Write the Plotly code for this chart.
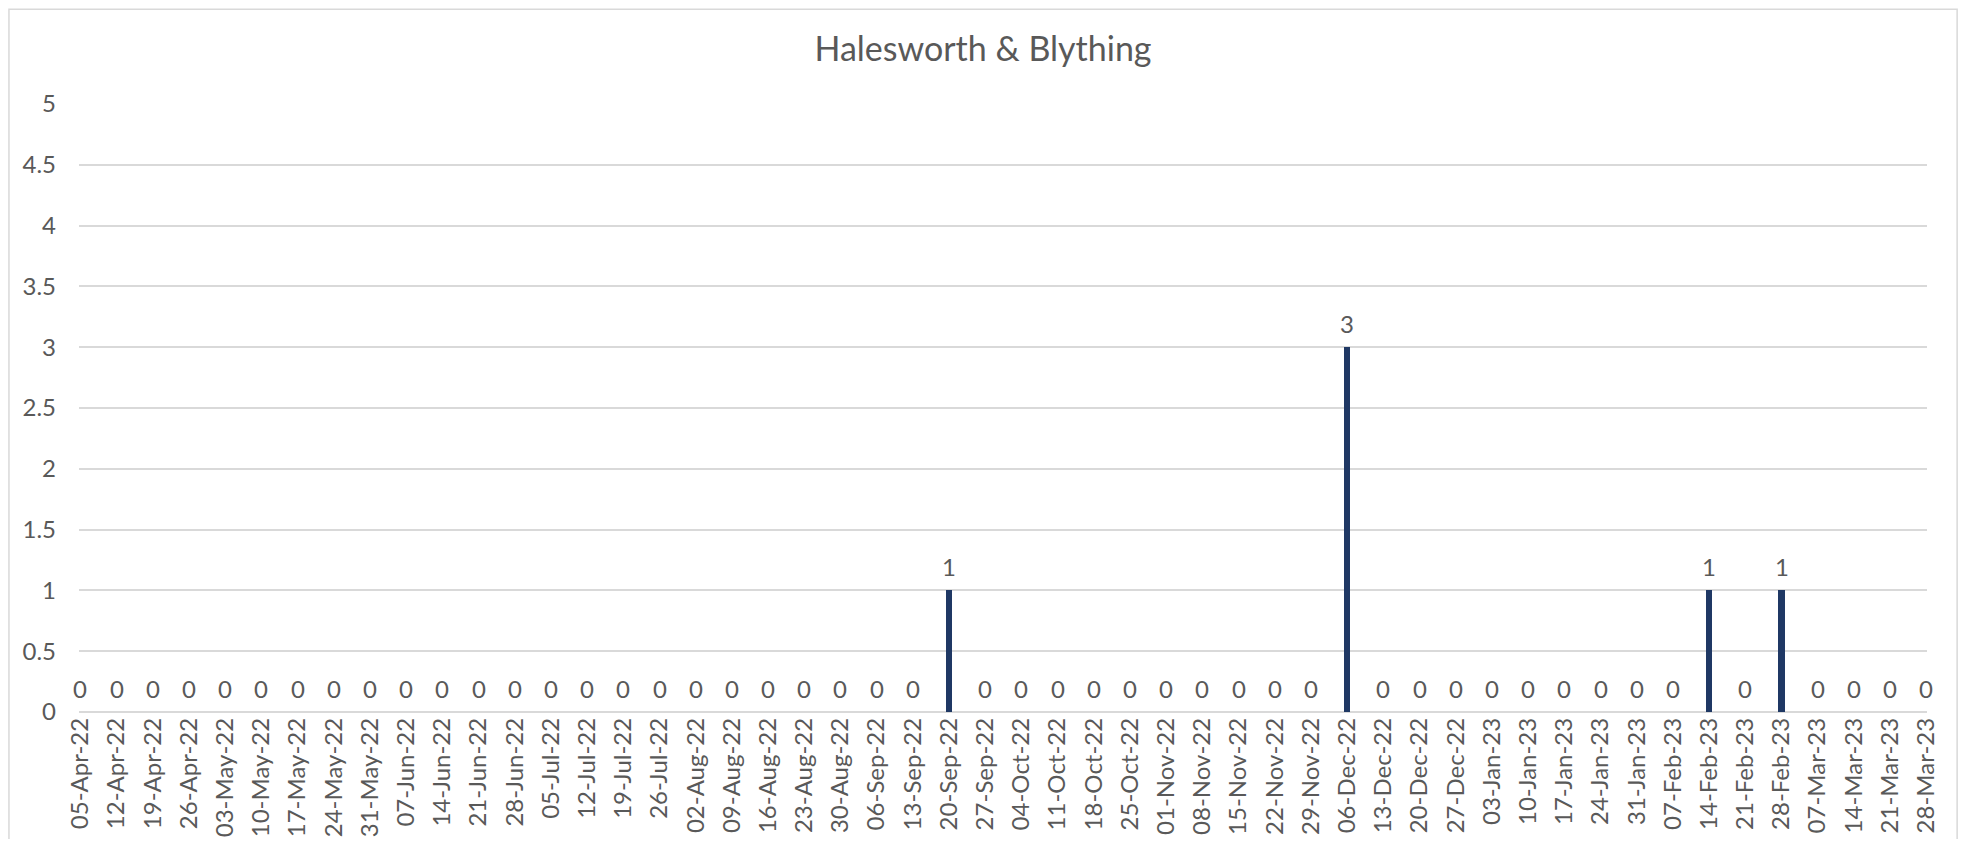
import plotly.graph_objects as go

weeks = [
    "05-Apr-22", "12-Apr-22", "19-Apr-22", "26-Apr-22", "03-May-22", "10-May-22",
    "17-May-22", "24-May-22", "31-May-22", "07-Jun-22", "14-Jun-22", "21-Jun-22",
    "28-Jun-22", "05-Jul-22", "12-Jul-22", "19-Jul-22", "26-Jul-22", "02-Aug-22",
    "09-Aug-22", "16-Aug-22", "23-Aug-22", "30-Aug-22", "06-Sep-22", "13-Sep-22",
    "20-Sep-22", "27-Sep-22", "04-Oct-22", "11-Oct-22", "18-Oct-22", "25-Oct-22",
    "01-Nov-22", "08-Nov-22", "15-Nov-22", "22-Nov-22", "29-Nov-22", "06-Dec-22",
    "13-Dec-22", "20-Dec-22", "27-Dec-22", "03-Jan-23", "10-Jan-23", "17-Jan-23",
    "24-Jan-23", "31-Jan-23", "07-Feb-23", "14-Feb-23", "21-Feb-23", "28-Feb-23",
    "07-Mar-23", "14-Mar-23", "21-Mar-23", "28-Mar-23",
]
counts = [0] * 24 + [1] + [0] * 10 + [3] + [0] * 9 + [1, 0, 1] + [0] * 4

y_ticks = [0, 0.5, 1, 1.5, 2, 2.5, 3, 3.5, 4, 4.5, 5]

navy = "#1F3864"
grey = "#595959"
font = "Lato"

fig = go.Figure()
fig.add_trace(go.Bar(x=weeks, y=counts, width=0.17, marker_color=navy,
                     marker_line_width=0, showlegend=False, hoverinfo="x+y"))

# data labels sit a little above each bar, like Excel's "outside end"
labels = [dict(x=w, y=c, text=str(c), showarrow=False, yanchor="middle", yshift=24,
               font=dict(family=font, size=24, color=grey))
          for w, c in zip(weeks, counts)]

# page body has an 8px margin, so the figure is 16px smaller than the window
fig.update_layout(
    width=1950, height=831,
    paper_bgcolor="white", plot_bgcolor="white",
    margin=dict(l=71, r=31, t=96, b=127, autoexpand=False),
    title=dict(text="Halesworth & Blything", x=0.5, xanchor="center", y=0.95, yanchor="middle",
               font=dict(family=font, size=34, color=grey)),
    font=dict(family=font, color=grey),
    bargap=0,
    annotations=labels,
    shapes=[dict(type="rect", xref="paper", yref="paper", x0=-0.0379, x1=1.0163,
                 y0=-0.26, y1=1.156, line=dict(color="#D9D9D9", width=1.5), layer="below")],
)
fig.update_xaxes(type="category", range=[-0.04, 51.02], tickangle=-90, showgrid=False,
                 showline=False, ticks="", tickfont=dict(family=font, size=24, color=grey))
fig.update_yaxes(range=[0, 5], tickvals=y_ticks, ticktext=[f"{v:g}" for v in y_ticks],
                 showgrid=True, gridcolor="#D9D9D9", gridwidth=1.5, zeroline=True,
                 zerolinecolor="#D9D9D9", zerolinewidth=1.5, ticks="", ticklabelstandoff=22,
                 tickfont=dict(family=font, size=24, color=grey))

fig.write_html("out.html")
